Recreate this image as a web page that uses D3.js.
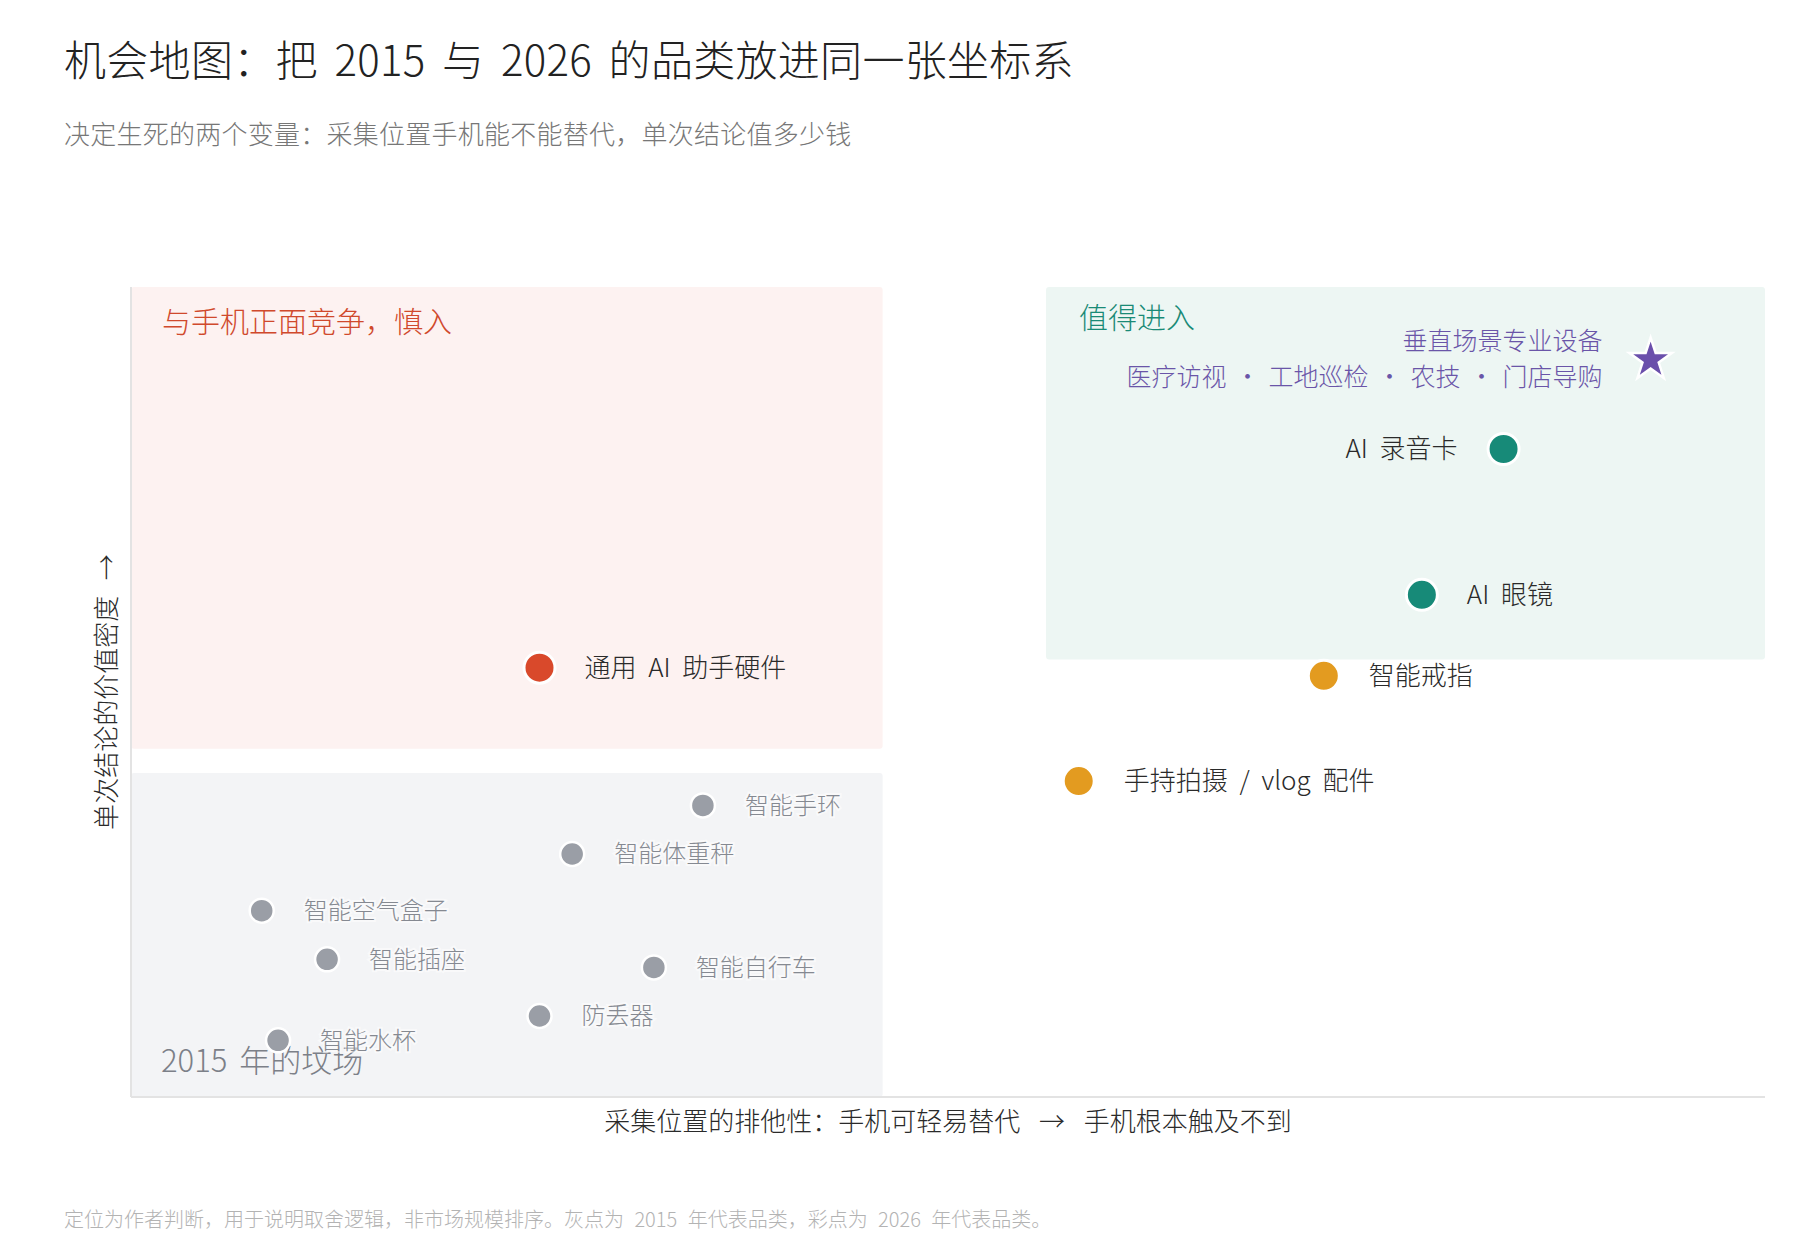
<!DOCTYPE html>
<html>
<head>
<meta charset="utf-8">
<script src="https://cdn.jsdelivr.net/npm/d3@7"></script>
<style>
  html, body { margin: 0; padding: 0; background: #fff; }
  svg text { font-family: "Noto Sans CJK SC", "Noto Sans", sans-serif; font-weight: 300; }
</style>
</head>
<body>
<div id="chart"></div>
<script>
// 2015 gray categories
const oldNames = ['智能手环', '智能体重秤', '智能空气盒子', '智能插座', '智能自行车', '防丢器', '智能水杯'];
const oldX = [3.5, 2.7, 0.8, 1.2, 3.2, 2.5, 0.9];
const oldY = [3.6, 3.0, 2.3, 1.7, 1.6, 1.0, 0.7];

// 2026 coloured categories
const newNames = ['通用 AI 助手硬件', 'AI 录音卡', 'AI 眼镜', '智能戒指', '手持拍摄 / vlog 配件'];
const newX = [2.5, 8.4, 7.9, 7.3, 5.8];
const newY = [5.3, 8.0, 6.2, 5.2, 3.9];
const newColor = ['#d9492b', '#178a78', '#178a78', '#e39b20', '#e39b20'];
const newSide = ['right', 'left', 'right', 'right', 'right'];

// star: vertical professional devices
const starX = 9.3;
const starY = 9.1;
const starLines = ['垂直场景专业设备', '医疗访视 · 工地巡检 · 农技 · 门店导购'];

// zones [x0, x1, y0, y1]
const zoneNames = ['与手机正面竞争，慎入', '值得进入', '2015 年的坟场'];
const zoneBox = [[0, 4.6, 4.3, 10], [5.6, 10, 5.4, 10], [0, 4.6, 0, 4.0]];

const width = 1815;
const height = 1254;

const svg = d3.select('#chart')
  .append('svg')
  .attr('width', width)
  .attr('height', height)
  .attr('viewBox', `0 0 ${width} ${height}`);

const xScale = d3.scaleLinear().domain([0, 10]).range([131, 1765]);
const yScale = d3.scaleLinear().domain([0, 10]).range([1097, 287]);

// title + subtitle
svg.append('text')
  .attr('x', 64).attr('y', 76)
  .attr('font-size', 42).attr('fill', '#222')
  .attr('word-spacing', 7)
  .attr('letter-spacing', 0.3)
  .text('机会地图：把 2015 与 2026 的品类放进同一张坐标系');

svg.append('text')
  .attr('x', 64).attr('y', 144)
  .attr('font-size', 26).attr('fill', '#777')
  .attr('letter-spacing', 0.25)
  .text('决定生死的两个变量：采集位置手机能不能替代，单次结论值多少钱');

// zone backgrounds
const zoneFill = ['#fdf2f1', '#edf6f3', '#f3f4f6'];
svg.append('g').selectAll('rect')
  .data(zoneBox)
  .join('rect')
  .attr('x', d => xScale(d[0]))
  .attr('y', d => yScale(d[3]))
  .attr('width', d => xScale(d[1]) - xScale(d[0]))
  .attr('height', d => yScale(d[2]) - yScale(d[3]))
  .attr('rx', 3)
  .attr('fill', (d, i) => zoneFill[i]);

// axis lines
svg.append('line')
  .attr('x1', xScale(0)).attr('x2', xScale(0))
  .attr('y1', yScale(10)).attr('y2', yScale(0))
  .attr('stroke', '#e3e3e3').attr('stroke-width', 2);
svg.append('line')
  .attr('x1', xScale(0)).attr('x2', xScale(10))
  .attr('y1', yScale(0)).attr('y2', yScale(0))
  .attr('stroke', '#e3e3e3').attr('stroke-width', 2);

// zone labels
const zoneColor = ['#d0492c', '#1a8a76', '#7c8088'];
svg.append('text')
  .attr('x', xScale(zoneBox[0][0]) + 31).attr('y', yScale(zoneBox[0][3]) + 46)
  .attr('font-size', 29).attr('fill', zoneColor[0])
  .text(zoneNames[0]);
svg.append('text')
  .attr('x', xScale(zoneBox[1][0]) + 33).attr('y', yScale(zoneBox[1][3]) + 42)
  .attr('font-size', 29).attr('fill', zoneColor[1])
  .text(zoneNames[1]);
svg.append('text')
  .attr('x', xScale(zoneBox[2][0]) + 30).attr('y', yScale(zoneBox[2][2]) - 25)
  .attr('font-size', 31).attr('fill', zoneColor[2])
  .attr('word-spacing', 5)
  .text(zoneNames[2]);

// gray 2015 points
const oldData = oldNames.map((n, i) => ({ name: n, x: oldX[i], y: oldY[i] }));
const oldG = svg.append('g');
oldG.selectAll('circle')
  .data(oldData)
  .join('circle')
  .attr('cx', d => xScale(d.x))
  .attr('cy', d => yScale(d.y))
  .attr('r', 12)
  .attr('fill', '#9a9ea6')
  .attr('stroke', '#fff')
  .attr('stroke-width', 2.5);
oldG.selectAll('text')
  .data(oldData)
  .join('text')
  .attr('x', d => xScale(d.x) + 42)
  .attr('y', d => yScale(d.y))
  .attr('dy', '0.35em')
  .attr('font-size', 24)
  .attr('fill', '#858991')
  .attr('stroke', '#fff').attr('stroke-opacity', 0.5).attr('stroke-width', 4)
  .attr('paint-order', 'stroke')
  .text(d => d.name);

// coloured 2026 points
const newData = newNames.map((n, i) => ({ name: n, x: newX[i], y: newY[i], c: newColor[i], side: newSide[i] }));
const newG = svg.append('g');
newG.selectAll('circle')
  .data(newData)
  .join('circle')
  .attr('cx', d => xScale(d.x))
  .attr('cy', d => yScale(d.y))
  .attr('r', 15.5)
  .attr('fill', d => d.c)
  .attr('stroke', '#fff')
  .attr('stroke-width', 3);
newG.selectAll('text')
  .data(newData)
  .join('text')
  .attr('x', d => xScale(d.x) + (d.side === 'left' ? -46 : 45))
  .attr('y', d => yScale(d.y))
  .attr('dy', '0.35em')
  .attr('text-anchor', d => d.side === 'left' ? 'end' : 'start')
  .attr('font-size', 26)
  .attr('word-spacing', 6)
  .attr('fill', '#2a2a2a')
  .text(d => d.name);

// star
svg.append('path')
  .attr('d', d3.symbol(d3.symbolStar, 560)())
  .attr('transform', `translate(${xScale(starX)},${yScale(starY)})`)
  .attr('fill', '#6a4fab')
  .attr('stroke', '#fff')
  .attr('stroke-width', 2.5);
svg.append('g').selectAll('text')
  .data(starLines)
  .join('text')
  .attr('x', xScale(starX) - 48)
  .attr('y', (d, i) => yScale(starY) + (i === 0 ? -19 : 17))
  .attr('dy', '0.35em')
  .attr('text-anchor', 'end')
  .attr('font-size', 25)
  .attr('word-spacing', 3)
  .attr('fill', '#6a55a8')
  .text(d => d);

// axis titles
svg.append('text')
  .attr('x', (xScale(0) + xScale(10)) / 2)
  .attr('y', 1131)
  .attr('text-anchor', 'middle')
  .attr('font-size', 26)
  .attr('word-spacing', 13)
  .attr('fill', '#2a2a2a')
  .text('采集位置的排他性：手机可轻易替代 → 手机根本触及不到');

svg.append('text')
  .attr('transform', `translate(107,${(yScale(0) + yScale(10)) / 2}) rotate(-90)`)
  .attr('text-anchor', 'middle')
  .attr('dy', '0.35em')
  .attr('font-size', 26)
  .attr('word-spacing', 10)
  .attr('fill', '#2a2a2a')
  .text('单次结论的价值密度 →');

// footnote
svg.append('text')
  .attr('x', 64).attr('y', 1227)
  .attr('font-size', 20)
  .attr('word-spacing', 6)
  .attr('fill', '#b3b3b3')
  .text('定位为作者判断，用于说明取舍逻辑，非市场规模排序。灰点为 2015 年代表品类，彩点为 2026 年代表品类。');
</script>
</body>
</html>
